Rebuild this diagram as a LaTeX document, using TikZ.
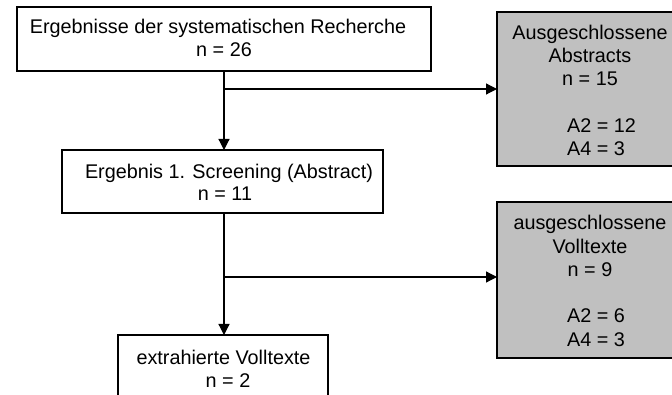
\documentclass[tikz,border=0pt]{standalone}
\usepackage{fontspec}
\setmainfont{Liberation Sans}
\usetikzlibrary{arrows.meta}
\definecolor{boxgrey}{RGB}{192,192,192}
\begin{document}
\begin{tikzpicture}[x=1pt,y=-1pt,
  box/.style={draw=black,line width=1.2pt,fill=white,inner sep=0pt,outer sep=0pt},
  greybox/.style={box,fill=boxgrey},
  lbl/.style={anchor=base,inner sep=0pt,font=\fontsize{19.8}{23}\selectfont},
  lbll/.style={lbl,anchor=base west},
  flow/.style={line width=1.2pt,-{Triangle[length=11pt,width=11pt]}}]
\useasboundingbox (0,0) rectangle (672,395);
\clip (0,0) rectangle (672,395);

% boxes of the flow
\node[box,minimum width=414pt,minimum height=64pt] (res) at (224,39) {};
\node[box,minimum width=321pt,minimum height=63pt] (scr) at (222.5,181.5) {};
\node[box,minimum width=210pt,minimum height=80pt] (ext) at (223,375) {};
\node[greybox,minimum width=193pt,minimum height=154pt] (ex1) at (593.5,89) {};
\node[greybox,minimum width=193pt,minimum height=156pt] (ex2) at (593.5,280) {};

% texts
\node[lbl] (resA) at (218,34) {Ergebnisse der systematischen Recherche};
\node[lbl] (resB) at (224,57) {n = 26};
\node[lbl] (scrA) at (229,179) {Ergebnis 1. Screening (Abstract)};
\node[lbl] (scrB) at (225,201) {n = 11};
\node[lbl] (extA) at (223.5,364) {extrahierte Volltexte};
\node[lbl] (extB) at (228,387) {n = 2};
\node[lbl] (ex1A) at (590,40) {Ausgeschlossene};
\node[lbl] (ex1B) at (590,63) {Abstracts};
\node[lbl] (ex1C) at (590,86) {n = 15};
\node[lbll] (ex1D) at (567,133) {A2 = 12};
\node[lbll] (ex1E) at (567,156) {A4 = 3};
\node[lbl] (ex2A) at (590,230) {ausgeschlossene};
\node[lbl] (ex2B) at (590,254) {Volltexte};
\node[lbl] (ex2C) at (590,277) {n = 9};
\node[lbll] (ex2D) at (567,323) {A2 = 6};
\node[lbll] (ex2E) at (567,346) {A4 = 3};

% connectors
\coordinate (j1) at (res.south |- 0,89);
\coordinate (j2) at (res.south |- 0,277);
\draw[flow] (res.south) -- (res.south |- scr.north);
\draw[flow] (j1) -- (j1 -| ex1.west);
\draw[flow] (res.south |- scr.south) -- (res.south |- ext.north);
\draw[flow] (j2) -- (j2 -| ex2.west);
\end{tikzpicture}
\end{document}
